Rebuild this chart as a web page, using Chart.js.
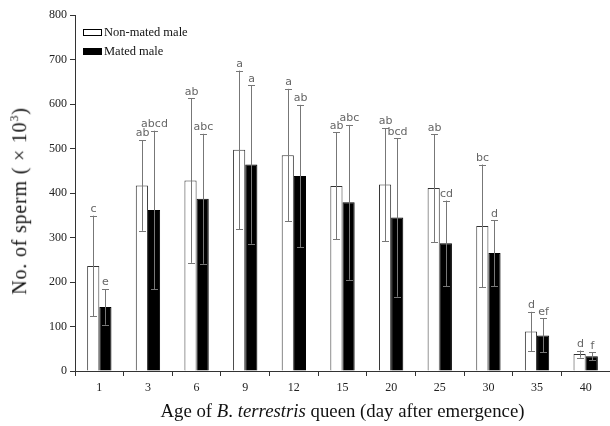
<!DOCTYPE html>
<html>
<head>
<meta charset="utf-8">
<script src="https://cdn.jsdelivr.net/npm/chart.js@4"></script>
<style>
  body { margin: 0; background: #fff; }
  #wrap { position: relative; width: 610px; height: 426px; }
  #xtitle { position: absolute; left: 75px; right: 0; top: 400px; text-align: center;
            font: 18.8px 'Liberation Serif', serif; color: #111; white-space: nowrap; }
  #ytitle { position: absolute; left: 19px; top: 201px; transform: translate(-50%, -50%) rotate(-90deg);
            font: 20px 'Liberation Serif', serif; letter-spacing: 0.8px; color: #111; white-space: nowrap; }
</style>
</head>
<body>
<div id="wrap">
  <canvas id="spermChart" width="610" height="426"></canvas>
  <div id="ytitle">No. of sperm ( × 10<sup style="font-size:12px">3</sup>)</div>
  <div id="xtitle">Age of <i>B</i>. <i>terrestris</i> queen (day after emergence)</div>
</div>
<script>
// data
const days = ['1', '3', '6', '9', '12', '15', '20', '25', '30', '35', '40'];
const nonMated = [236, 417, 428, 497, 485, 416, 419, 411, 326, 89, 38];
const nonMatedSd = [113, 102, 185, 178, 149, 120, 127, 121, 138, 44, 8];
const nonMatedLetters = ['c', 'ab', 'ab', 'a', 'a', 'ab', 'ab', 'ab', 'bc', 'd', 'd'];
const mated = [144, 362, 387, 464, 438, 379, 345, 287, 265, 80, 33];
const matedSd = [40, 178, 146, 178, 160, 174, 178, 96, 74, 38, 9];
const matedLetters = ['e', 'abcd', 'abc', 'a', 'ab', 'abc', 'bcd', 'cd', 'd', 'ef', 'f'];
const yTicks = [0, 100, 200, 300, 400, 500, 600, 700, 800];

const sds = [nonMatedSd, matedSd];
const letters = [nonMatedLetters, matedLetters];

// error bars + significance letters
const errorBars = {
    id: 'errorBars',
    afterDatasetsDraw(chart) {
        const ctx = chart.ctx;
        const y = chart.scales.y;
        ctx.save();
        chart.data.datasets.forEach((ds, di) => {
            const meta = chart.getDatasetMeta(di);
            meta.data.forEach((bar, i) => {
                const v = ds.data[i];
                const top = y.getPixelForValue(v + sds[di][i]);
                const bot = y.getPixelForValue(v - sds[di][i]);
                const x = Math.round(bar.x) + 0.5;
                ctx.strokeStyle = '#777';
                ctx.lineWidth = 1;
                ctx.beginPath();
                ctx.moveTo(x, top); ctx.lineTo(x, bot);
                ctx.moveTo(x - 3.5, Math.round(top) + 0.5); ctx.lineTo(x + 3.5, Math.round(top) + 0.5);
                ctx.moveTo(x - 3.5, Math.round(bot) + 0.5); ctx.lineTo(x + 3.5, Math.round(bot) + 0.5);
                ctx.stroke();
                ctx.fillStyle = '#666';
                ctx.font = '11px "DejaVu Sans"';
                ctx.textAlign = 'center';
                ctx.textBaseline = 'bottom';
                ctx.fillText(letters[di][i], x, top - 1);
            });
        });
        // legend
        const a = chart.chartArea;
        ctx.lineWidth = 1;
        ctx.fillStyle = '#fff';
        ctx.strokeStyle = '#000';
        ctx.fillRect(a.left + 8, 29, 18, 6);
        ctx.strokeRect(a.left + 8.5, 29.5, 18, 6);
        ctx.fillStyle = '#000';
        ctx.fillRect(a.left + 8, 48, 19, 7);
        ctx.font = '12.5px "Liberation Serif"';
        ctx.textAlign = 'left';
        ctx.textBaseline = 'middle';
        ctx.fillStyle = '#111';
        ctx.fillText('Non-mated male', a.left + 29, 33);
        ctx.fillText('Mated male', a.left + 29, 52);
        ctx.restore();
    }
};

const ctx = document.getElementById('spermChart').getContext('2d');
const spermChart = new Chart(ctx, {
    type: 'bar',
    data: {
        labels: days,
        datasets: [{
            label: 'Non-mated male',
            data: nonMated,
            backgroundColor: '#fff',
            borderColor: '#333',
            borderWidth: 1
        }, {
            label: 'Mated male',
            data: mated,
            backgroundColor: '#000',
            borderColor: '#000',
            borderWidth: 1
        }]
    },
    options: {
        responsive: false,
        animation: false,
        layout: { padding: { top: 15, right: 0 } },
        categoryPercentage: 0.5,
        barPercentage: 1,
        plugins: { legend: { display: false }, tooltip: { enabled: false } },
        scales: {
            x: {
                grid: { drawOnChartArea: false, tickLength: 5, color: '#333', offset: true },
                border: { color: '#333' },
                ticks: { font: { family: 'Liberation Serif', size: 12 }, color: '#222', padding: 5 },
                afterFit: (s) => { s.height = 55; }
            },
            y: {
                min: 0,
                max: 800,
                afterBuildTicks: (s) => { s.ticks = yTicks.map(v => ({ value: v })); },
                grid: { drawOnChartArea: false, tickLength: 5, color: '#333' },
                border: { color: '#333' },
                ticks: { font: { family: 'Liberation Serif', size: 12 }, color: '#222', padding: 3 },
                afterFit: (s) => { s.width = 75; }
            }
        }
    },
    plugins: [errorBars]
});
</script>
</body>
</html>
